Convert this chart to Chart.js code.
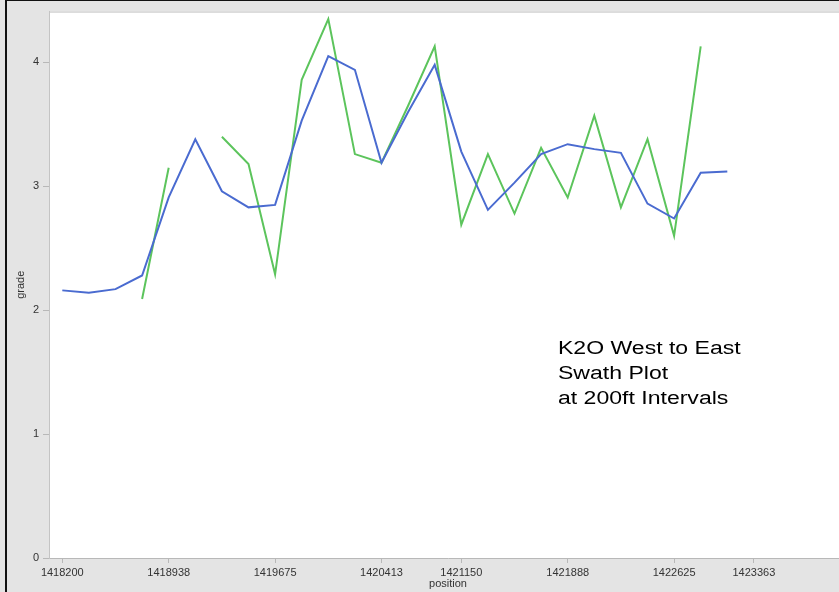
<!DOCTYPE html>
<html>
<head>
<meta charset="utf-8">
<script src="https://cdn.jsdelivr.net/npm/chart.js@4/dist/chart.umd.min.js"></script>
<style>
  html, body { margin: 0; padding: 0; width: 839px; height: 592px; overflow: hidden; background: #e4e4e4; }
  #frame { position: absolute; left: 5px; top: 0; width: 900px; height: 592px;
           border-left: 2px solid #111; border-top: 1px solid #111; }
  #wrap { position: absolute; left: 0; top: 0; width: 850px; height: 591px; }
  #note { position: absolute; left: 551px; top: 335px; font-family: "Liberation Sans", Arial, sans-serif;
          font-size: 18px; line-height: 25px; color: #000; white-space: nowrap;
          transform: scaleX(1.28); transform-origin: left top; }
</style>
</head>
<body>
<div id="frame">
  <div id="wrap"><canvas id="chart"></canvas></div>
  <div id="note">K2O West to East<br>Swath Plot<br>at 200ft Intervals</div>
</div>
<script>
/*******************************************************
 * data
 *******************************************************/
// sample slot along the swath (one slot per 200ft interval)
const slots = [0, 1, 2, 3, 4, 5, 6, 7, 8, 9, 10, 11, 12, 13, 14, 15, 16, 17, 18, 19, 20, 21, 22, 23, 24, 25];

// blue series
const gradeBlue = [2.16, 2.14, 2.17, 2.28, 2.91, 3.38, 2.96, 2.83, 2.85, 3.53, 4.05, 3.94, 3.19,
                   3.60, 3.98, 3.28, 2.81, 3.03, 3.26, 3.34, 3.30, 3.27, 2.86, 2.74, 3.11, 3.12];

// green series (null = no samples)
const gradeGreen = [null, null, null, 2.09, 3.15, null, 3.40, 3.18, 2.29, 3.86, 4.35, 3.26, 3.19,
                    3.65, 4.13, 2.69, 3.26, 2.78, 3.31, 2.91, 3.57, 2.83, 3.38, 2.60, 4.13, null];

// x tick labels and the slot each one sits on
const xTickSlots = [0, 4, 8, 12, 15, 19, 23, 26];
const xTickLabels = ["1418200", "1418938", "1419675", "1420413", "1421150", "1421888", "1422625", "1423363"];

const yTicks = [0, 1, 2, 3, 4];

function toPoints(vals) {
  return slots.map((s, i) => ({ x: s, y: vals[i] }));
}

// white plot area with a light frame
const plotBg = {
  id: "plotBg",
  beforeDraw(chart) {
    const { ctx, chartArea: a } = chart;
    ctx.save();
    ctx.fillStyle = "#ffffff";
    ctx.fillRect(a.left, a.top, a.right - a.left, a.bottom - a.top);
    ctx.strokeStyle = "#c4c4c4";
    ctx.lineWidth = 1;
    ctx.beginPath();
    ctx.moveTo(a.left, a.top + 0.5);
    ctx.lineTo(a.right, a.top + 0.5);
    ctx.stroke();
    ctx.restore();
  }
};

const tickFont = { family: "'Liberation Sans', Arial, sans-serif", size: 11 };

new Chart(document.getElementById("chart").getContext("2d"), {
  type: "line",
  data: {
    datasets: [
      {
        label: "blue",
        data: toPoints(gradeBlue),
        borderColor: "#4a6bd0",
        borderWidth: 2,
        pointRadius: 0,
        tension: 0,
        spanGaps: false
      },
      {
        label: "green",
        data: toPoints(gradeGreen),
        borderColor: "#5cc45c",
        borderWidth: 2,
        pointRadius: 0,
        tension: 0,
        spanGaps: false
      }
    ]
  },
  options: {
    responsive: true,
    maintainAspectRatio: false,
    animation: false,
    layout: { padding: { top: 10, right: 10, left: 0, bottom: 0 } },
    plugins: { legend: { display: false }, tooltip: { enabled: false } },
    scales: {
      x: {
        type: "linear",
        min: -0.5,
        max: 29.5,
        afterBuildTicks: axis => { axis.ticks = xTickSlots.map(v => ({ value: v })); },
        afterFit: axis => { axis.height = 34; },
        ticks: {
          autoSkip: false,
          maxRotation: 0,
          padding: 3,
          color: "#333",
          font: tickFont,
          callback: (v) => xTickLabels[xTickSlots.indexOf(v)]
        },
        grid: { drawOnChartArea: false, drawTicks: true, tickLength: 5, color: "#b8b8b8" },
        border: { display: true, color: "#b8b8b8" },
        title: { display: true, text: "position", color: "#333", font: tickFont, padding: { top: 0, bottom: 1 } }
      },
      y: {
        min: 0,
        max: 4.41,
        afterBuildTicks: axis => { axis.ticks = yTicks.map(v => ({ value: v })); },
        afterFit: axis => { axis.width = 42; },
        ticks: { padding: 4, color: "#333", font: tickFont },
        grid: { drawOnChartArea: false, drawTicks: true, tickLength: 6, color: "#b8b8b8" },
        border: { display: true, color: "#c4c4c4" },
        title: { display: true, text: "grade", color: "#333", font: tickFont, padding: { top: 7, bottom: 0 } }
      }
    }
  },
  plugins: [plotBg]
});
</script>
</body>
</html>
